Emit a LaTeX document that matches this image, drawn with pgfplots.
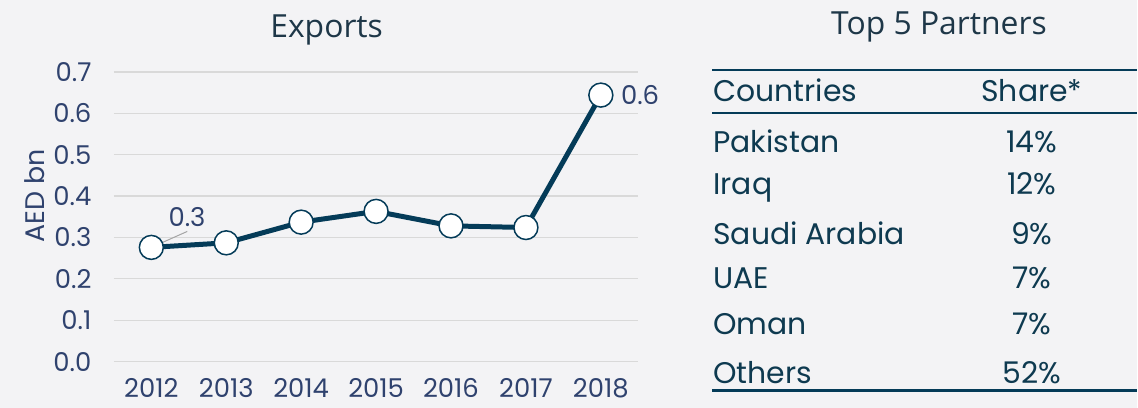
\documentclass[border=0pt]{standalone}
\usepackage{pgfplots}
\pgfplotsset{compat=1.18}
\usepackage{fontspec}
\setmainfont{Poppins}
\newfontfamily\titlefont{Open Sans}
\definecolor{bg}{RGB}{243,243,245}
\definecolor{lineblue}{RGB}{4,59,88}
\definecolor{ticktext}{RGB}{47,66,110}
\definecolor{titletext}{RGB}{30,55,72}
\definecolor{tabtext}{RGB}{14,58,80}
\definecolor{gridc}{RGB}{217,217,217}
\begin{document}
\begin{tikzpicture}[x=1bp,y=1bp]
\fill[bg] (0,0) rectangle (1138,408);
\begin{axis}[
  at={(114bp,46bp)}, anchor=south west, scale only axis,
  width=525bp, height=290bp,
  xmin=2011.5, xmax=2018.5, ymin=0, ymax=0.7,
  axis line style={draw=none},
  major tick length=0pt,
  xtick={2012,2013,2014,2015,2016,2017,2018},
  ytick={0,0.1,0.2,0.3,0.4,0.5,0.6,0.7},
  ymajorgrids, grid style={gridc, line width=1.3bp},
  /pgf/number format/assume math mode=true,
  ticklabel style={font=\fontsize{26}{26}\selectfont, text=ticktext},
  xticklabel style={/pgf/number format/1000 sep={}, yshift=-13bp},
  yticklabel style={/pgf/number format/.cd, fixed, fixed zerofill, precision=1, /tikz/.cd, xshift=-19bp},
  clip=false,
]
\addplot[lineblue, line width=5bp, mark=*, mark size=12bp,
  mark options={fill=white, draw=lineblue, line width=1.5bp}]
  coordinates {(2012,0.276) (2013,0.287) (2014,0.337) (2015,0.363) (2016,0.328) (2017,0.324) (2018,0.644)};
\draw[gray!70, line width=1bp] (axis cs:2012,0.276) -- ++(36bp,16bp);
\node[anchor=south west, font=\fontsize{26}{26}\selectfont, text=ticktext, inner sep=0pt] at (axis cs:2012,0.276) [xshift=17bp, yshift=21bp] {0.3};
\node[anchor=west, font=\fontsize{26}{26}\selectfont, text=ticktext, inner sep=0pt] at (axis cs:2018,0.644) [xshift=20bp] {0.6};
\end{axis}
\node[rotate=90, font=\fontsize{27}{27}\selectfont, text=ticktext, inner sep=0pt] at (35,212) {AED bn};
\node[font=\titlefont\fontsize{32}{32}\selectfont, text=titletext] at (327,378) {Exports};
\node[font=\titlefont\fontsize{32}{32}\selectfont, text=titletext] at (940,381) {Top 5 Partners};
\draw[lineblue, line width=2.5bp] (713,338) -- (1138,338);
\draw[lineblue, line width=2.5bp] (713,295) -- (1138,295);
\draw[lineblue, line width=2.5bp] (713,17) -- (1138,17);
\begin{scope}[every node/.style={font=\fontsize{30}{30}\selectfont, text=tabtext, inner sep=0pt}]
\node[anchor=base west] at (714,306) {Countries};
\node[anchor=base] at (1033,306) {Share*};
\node[anchor=base west] at (714,255) {Pakistan};
\node[anchor=base] at (1033,255) {14\%};
\node[anchor=base west] at (714,213) {Iraq};
\node[anchor=base] at (1033,213) {12\%};
\node[anchor=base west] at (714,163) {Saudi Arabia};
\node[anchor=base] at (1033,163) {9\%};
\node[anchor=base west] at (714,119) {UAE};
\node[anchor=base] at (1033,119) {7\%};
\node[anchor=base west] at (714,73) {Oman};
\node[anchor=base] at (1033,73) {7\%};
\node[anchor=base west] at (714,24) {Others};
\node[anchor=base] at (1033,24) {52\%};
\end{scope}
\end{tikzpicture}
\end{document}
